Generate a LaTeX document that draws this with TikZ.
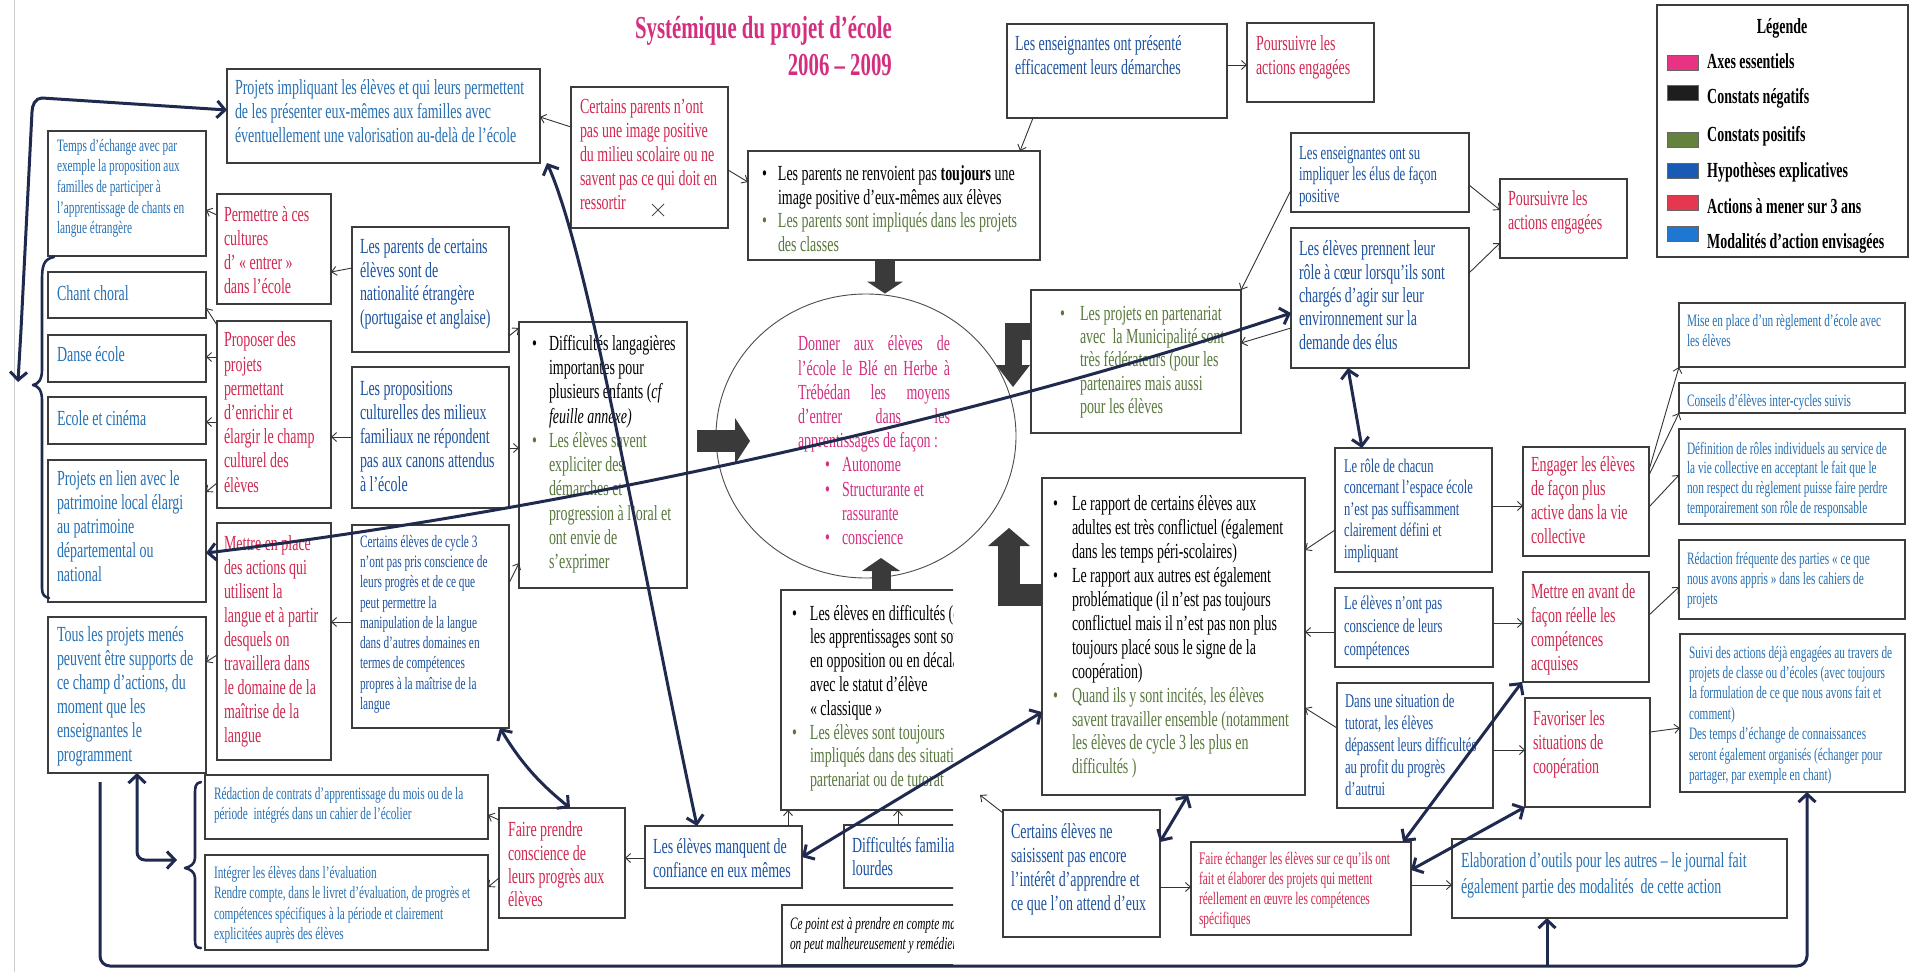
\documentclass[tikz,border=0pt]{standalone}
\usepackage{fontspec}
\setmainfont{Liberation Serif}[FakeStretch=0.65]
\usetikzlibrary{arrows.meta,shapes.geometric}
\definecolor{pinkc}{RGB}{212,46,128}
\definecolor{redc}{RGB}{208,40,80}
\definecolor{hypc}{RGB}{28,82,160}
\definecolor{modc}{RGB}{38,112,180}
\definecolor{posc}{RGB}{88,120,60}
\definecolor{navy}{RGB}{32,42,78}
\definecolor{blockc}{RGB}{58,58,58}
\definecolor{edgec}{RGB}{60,60,60}
\definecolor{swpink}{RGB}{232,50,130}
\definecolor{swblack}{RGB}{30,30,30}
\definecolor{swgreen}{RGB}{100,130,60}
\definecolor{swblue}{RGB}{25,90,180}
\definecolor{swred}{RGB}{230,55,80}
\definecolor{swlblue}{RGB}{30,120,210}
\newcommand\tbul[1]{\makebox[#1pt][l]{\textbullet}}
\newcommand\tind[1]{\hspace*{#1pt}}
\newcommand\bx[9]{%
  \node[box,minimum width={(#4-#2)*1pt},minimum height={(#5-#3)*1pt}] (#1) at (#2,#3) {};
  \node[txt,#8] (#1t) at (#6,#7) {#9};}
\begin{document}
\begin{tikzpicture}[x=1pt,y=-1pt,
  box/.style={draw=edgec,line width=1.1pt,anchor=north west,inner sep=0pt,outer sep=0pt},
  txt/.style={anchor=north west,inner sep=0pt,outer sep=0pt,align=left},
  fs/.style 2 args={font=\fontsize{#1}{#2}\selectfont},
  thin/.style={draw=black!80,line width=0.9pt,-{Straight Barb[length=5pt,width=9pt]}},
  thk/.style={draw=navy,line width=3pt,{Straight Barb[length=8pt,width=17pt]}-{Straight Barb[length=8pt,width=17pt]}},
  thkend/.style={draw=navy,line width=3pt,-{Straight Barb[length=8pt,width=17pt]}},
  hand/.style={draw=navy,line width=2.6pt,line cap=round,line join=round},
  blk/.style={draw=blockc,line join=miter},
  swatch/.style={anchor=north west,minimum width=31pt,minimum height=15pt,inner sep=0pt,draw=black!60,line width=0.5pt},
  leglab/.style={anchor=base west,inner sep=0pt,font=\fontsize{21.5}{24}\selectfont\bfseries}]
\useasboundingbox (0,0) rectangle (1910,972);
\fill[white] (0,0) rectangle (1910,972);
\draw[gray!40,line width=0.8pt] (14,0) -- (14,972);

% title
\node[anchor=north east,align=right,inner sep=0pt,text=pinkc,font=\fontsize{32}{37}\selectfont\bfseries] (title) at (892,16) {Systémique du projet d’école\\2006 – 2009};

% legend
\node[box,minimum width=251pt,minimum height=252pt] (legend) at (1657,5) {};
\node[anchor=base,inner sep=0pt,font=\fontsize{21.5}{24}\selectfont\bfseries] (legt) at (1782,33) {Légende};
\node[swatch,fill=swpink] (sw1) at (1667,55) {};
\node[swatch,fill=swblack] (sw2) at (1667,85) {};
\node[swatch,fill=swgreen] (sw3) at (1667,132) {};
\node[swatch,fill=swblue] (sw4) at (1667,163) {};
\node[swatch,fill=swred] (sw5) at (1667,195) {};
\node[swatch,fill=swlblue] (sw6) at (1667,226) {};
\node[leglab] (lb1) at (1707,68) {Axes essentiels};
\node[leglab] (lb2) at (1707,103) {Constats négatifs};
\node[leglab] (lb3) at (1707,141) {Constats positifs};
\node[leglab] (lb4) at (1707,177) {Hypothèses explicatives};
\node[leglab] (lb5) at (1707,213) {Actions à mener sur 3 ans};
\node[leglab] (lb6) at (1707,248) {Modalités d’action envisagées};

% left column
\bx{pimpl}{227}{69}{540}{163}{235}{80}{fs={21.5}{24},text=modc}{Projets impliquant les élèves et qui leurs permettent\\de les présenter eux-mêmes aux familles avec\\éventuellement une valorisation au-delà de l’école}
\bx{temps}{48}{131}{206}{256}{57}{139}{fs={17.4}{20.7},text=modc}{Temps d’échange avec par\\exemple la proposition aux\\familles de participer à\\l’apprentissage de chants en\\langue étrangère}
\bx{permettre}{217}{194}{331}{304}{224}{207}{fs={21.5}{24},text=redc}{Permettre à ces\\cultures\\d’ «~entrer~»\\dans l’école}
\bx{parentsetr}{352}{227}{509}{352}{360}{239}{fs={21.5}{23.4},text=hypc}{Les parents de certains\\élèves sont de\\nationalité étrangère\\(portugaise et anglaise)}
\bx{chant}{48}{272}{206}{318}{57}{286}{fs={21.5}{24},text=modc}{Chant choral}
\bx{danse}{48}{335}{206}{382}{57}{347}{fs={21.5}{24},text=modc}{Danse école}
\bx{cinema}{48}{397}{206}{444}{57}{411}{fs={21.5}{24},text=modc}{Ecole et cinéma}
\bx{patri}{48}{460}{206}{602}{57}{471}{fs={21.5}{24},text=modc}{Projets en lien avec le\\patrimoine local élargi\\au patrimoine\\départemental ou\\national}
\bx{proposer}{217}{321}{331}{508}{224}{332}{fs={21.5}{24.2},text=redc}{Proposer des\\projets\\permettant\\d’enrichir et\\élargir le champ\\culturel des\\élèves}
\bx{propos}{352}{367}{509}{508}{360}{381}{fs={21.5}{24},text=hypc}{Les propositions\\culturelles des milieux\\familiaux ne répondent\\pas aux canons attendus\\à l’école}
\bx{mettre}{217}{523}{331}{760}{224}{536}{fs={21.5}{24},text=redc}{Mettre en place\\des actions qui\\utilisent la\\langue et à partir\\desquels on\\travaillera dans\\le domaine de la\\maîtrise de la\\langue}
\bx{cycle3}{352}{525}{509}{728}{360}{535}{fs={17.4}{20.3},text=hypc}{Certains élèves de cycle 3\\n’ont pas pris conscience de\\leurs progrès et de ce que\\peut permettre la\\manipulation de la langue\\dans d’autres domaines en\\termes de compétences\\propres à la maîtrise de la\\langue}
\bx{tous}{48}{617}{206}{773}{57}{627}{fs={21.5}{24},text=modc}{Tous les projets menés\\peuvent être supports de\\ce champ d’actions, du\\moment que les\\enseignantes le\\programment}
\bx{redaction}{205}{775}{488}{839}{214}{787}{fs={17.4}{20},text=modc}{Rédaction de contrats d’apprentissage du mois ou de la\\période~ intégrés dans un cahier de l’écolier}
\bx{integrer}{205}{855}{488}{950}{214}{866}{fs={17.4}{20.5},text=modc}{Intégrer les élèves dans l’évaluation\\Rendre compte, dans le livret d’évaluation, de progrès et\\compétences spécifiques à la période et clairement\\explicitées auprès des élèves}

% middle
\bx{certparents}{571}{87}{728}{228}{580}{99}{fs={21.5}{24},text=redc}{Certains parents n’ont\\pas une image positive\\du milieu scolaire ou ne\\savent pas ce qui doit en\\ressortir}
\draw[black!70,line width=0.8pt] (652,204) -- (664,216) (652,216) -- (664,204);
\bx{renvoient}{748}{151}{1040}{260}{762}{166}{fs={21.5}{23.4}}{\tbul{16}Les parents ne renvoient pas \textbf{toujours} une\\\tind{16}image positive d’eux-mêmes aux élèves\\\textcolor{posc}{\tbul{16}Les parents sont impliqués dans les projets}\\\tind{16}\textcolor{posc}{des classes}}
\bx{langag}{519}{322}{687}{588}{532}{335}{fs={21.5}{24.3}}{\tbul{17}Difficultés langagières\\\tind{17}importantes pour\\\tind{17}plusieurs enfants (\textit{cf}\\\tind{17}\textit{feuille annexe)}\\\textcolor{posc}{\tbul{17}Les élèves savent}\\\tind{17}\textcolor{posc}{expliciter des}\\\tind{17}\textcolor{posc}{démarches et}\\\tind{17}\textcolor{posc}{progression à l’oral et}\\\tind{17}\textcolor{posc}{ont envie de}\\\tind{17}\textcolor{posc}{s’exprimer}}
\node[draw=black!70,line width=0.9pt,ellipse,minimum width=300pt,minimum height=284pt,inner sep=0pt] (goal) at (866,436) {};
\node[txt,fs={21.5}{24.2},text=pinkc] (goalt) at (798,336) {\hbox to 152pt{Donner\hfill aux\hfill élèves\hfill de}\\\hbox to 152pt{l’école\hfill le\hfill Blé\hfill en\hfill Herbe\hfill à}\\\hbox to 152pt{Trébédan\hfill les\hfill moyens}\\\hbox to 152pt{d’entrer\hfill dans\hfill les}\\apprentissages de façon :\\\tind{27}\tbul{17}Autonome\\\tind{27}\tbul{17}Structurante et\\\tind{44}rassurante\\\tind{27}\tbul{17}conscience};

% upper right
\bx{enspres}{1007}{24}{1227}{118}{1015}{36}{fs={21.5}{23.4},text=hypc}{Les enseignantes ont présenté\\efficacement leurs démarches}
\bx{pours1}{1247}{23}{1374}{102}{1256}{36}{fs={21.5}{23.4},text=redc}{Poursuivre les\\actions engagées}
\bx{enssu}{1291}{133}{1469}{212}{1299}{146}{fs={19.7}{21.7},text=hypc}{Les enseignantes ont su\\impliquer les élus de façon\\positive}
\bx{prennent}{1291}{228}{1469}{368}{1299}{241}{fs={21.5}{23.3},text=hypc}{Les élèves prennent leur\\rôle à cœur lorsqu’ils sont\\chargés d’agir sur leur\\environnement sur la\\demande des élus}
\bx{pours2}{1500}{179}{1627}{258}{1508}{191}{fs={21.5}{23.4},text=redc}{Poursuivre les\\actions engagées}
\bx{partenar}{1031}{290}{1241}{433}{1060}{306}{fs={21.5}{23.3},text=posc}{\tbul{20}Les projets en partenariat\\\tind{20}avec~ la Municipalité sont\\\tind{20}très fédérateurs (pour les\\\tind{20}partenaires mais aussi\\\tind{20}pour les élèves}
\bx{rapport}{1042}{478}{1305}{795}{1053}{496}{fs={21.5}{23.9}}{\tbul{19}Le rapport de certains élèves aux\\\tind{19}adultes est très conflictuel (également\\\tind{19}dans les temps péri-scolaires)\\\tbul{19}Le rapport aux autres est également\\\tind{19}problématique (il n’est pas toujours\\\tind{19}conflictuel mais il n’est pas non plus\\\tind{19}toujours placé sous le signe de la\\\tind{19}coopération)\\\textcolor{posc}{\tbul{19}Quand ils y sont incités, les élèves}\\\tind{19}\textcolor{posc}{savent travailler ensemble (notamment}\\\tind{19}\textcolor{posc}{les élèves de cycle 3 les plus en}\\\tind{19}\textcolor{posc}{difficultés )}}
\bx{role}{1335}{448}{1492}{572}{1344}{459}{fs={19.3}{21.5},text=hypc}{Le rôle de chacun\\concernant l’espace école\\n’est pas suffisamment\\clairement défini et\\impliquant}
\bx{nont}{1335}{588}{1493}{667}{1344}{596}{fs={19.5}{23},text=hypc}{Le élèves n’ont pas\\conscience de leurs\\compétences}
\bx{tutorat}{1337}{683}{1493}{808}{1345}{694}{fs={19.5}{22},text=hypc}{Dans une situation de\\tutorat, les élèves\\dépassent leurs difficultés\\au profit du progrès\\d’autrui}
\bx{engager}{1523}{447}{1649}{556}{1531}{457}{fs={21.5}{24},text=redc}{Engager les élèves\\de façon plus\\active dans la vie\\collective}
\bx{avant}{1523}{572}{1649}{682}{1531}{584}{fs={21.5}{24},text=redc}{Mettre en avant de\\façon réelle les\\compétences\\acquises}
\bx{favoriser}{1525}{698}{1650}{807}{1533}{711}{fs={21.5}{24},text=redc}{Favoriser les\\situations de\\coopération}
\bx{mise}{1679}{303}{1905}{367}{1687}{314}{fs={17.4}{20},text=modc}{Mise en place d’un règlement d’école avec\\les élèves}
\bx{conseils}{1679}{383}{1905}{413}{1687}{394}{fs={17.4}{20},text=modc}{Conseils d’élèves inter-cycles suivis}
\bx{definition}{1679}{429}{1905}{524}{1687}{442}{fs={17.4}{19.6},text=modc}{Définition de rôles individuels au service de\\la vie collective en acceptant le fait que le\\non respect du règlement puisse faire perdre\\temporairement son rôle de responsable}
\bx{redfreq}{1679}{540}{1905}{619}{1687}{552}{fs={17.4}{20},text=modc}{Rédaction fréquente des parties «~ce que\\nous avons appris~» dans les cahiers de\\projets}
\bx{suivi}{1680}{634}{1905}{792}{1689}{646}{fs={17.4}{20.4},text=modc}{Suivi des actions déjà engagées au travers de\\projets de classe ou d’écoles (avec toujours\\la formulation de ce que nous avons fait et\\comment)\\Des temps d’échange de connaissances\\seront également organisés (échanger pour\\partager, par exemple en chant)}
\bx{elaboration}{1452}{839}{1787}{918}{1461}{852}{fs={21.5}{26},text=modc}{Elaboration d’outils pour les autres – le journal fait\\également partie des modalités~ de cette action}
\bx{echanger}{1191}{842}{1411}{935}{1199}{852}{fs={17.6}{20},text=redc}{Faire échanger les élèves sur ce qu’ils ont\\fait et élaborer des projets qui mettent\\réellement en œuvre les compétences\\spécifiques}
\bx{saisissent}{1003}{810}{1160}{937}{1011}{824}{fs={21.5}{24},text=hypc}{Certains élèves ne\\saisissent pas encore\\l’intérêt d’apprendre et\\ce que l’on attend d’eux}
\bx{manquent}{645}{826}{802}{888}{653}{839}{fs={21.5}{23.3},text=hypc}{Les élèves manquent de\\confiance en eux mêmes}
\bx{faireprendre}{499}{808}{625}{918}{508}{822}{fs={21.5}{23.3},text=redc}{Faire prendre\\conscience de\\leurs progrès aux\\élèves}

% clipped boxes
\begin{scope}
\clip (760,570) rectangle (953,972);
\bx{difficultes}{781}{590}{1010}{810}{792}{605}{fs={21.5}{23.8}}{\tbul{18}Les élèves en difficultés (dans\\\tind{18}les apprentissages sont souvent\\\tind{18}en opposition ou en décalage\\\tind{18}avec le statut d’élève\\\tind{18}«~classique~»\\\textcolor{posc}{\tbul{18}Les élèves sont toujours}\\\tind{18}\textcolor{posc}{impliqués dans des situations de}\\\tind{18}\textcolor{posc}{partenariat ou de tutorat}}
\bx{famil}{844}{825}{1010}{888}{852}{837}{fs={21.5}{23.3},text=hypc}{Difficultés familiales\\lourdes}
\bx{cepoint}{782}{905}{1010}{965}{790}{917}{fs={17.4}{20}}{\textit{Ce point est à prendre en compte mais}\\\textit{on peut malheureusement y remédier}}
\end{scope}

% block arrows
\coordinate (g1) at (750,441);
\draw[blk,line width=22pt,shorten <=10pt,-{Triangle[width=46pt,length=15pt,line width=0pt]}] (langag.east |- 0,441) -- (g1);
\draw[blk,line width=20pt,-{Triangle[width=36pt,length=12pt,line width=0pt]}] (renvoient.south -| 885,0) -- (goal.north -| 885,0);
\coordinate (g3) at (881,558);
\draw[blk,line width=19pt,-{Triangle[width=38pt,length=13pt,line width=0pt]}] (difficultes.north -| 881,0) -- (g3);
\coordinate (g4) at (1013,387);
\draw[blk,line width=17pt,-{Triangle[width=34pt,length=22pt,line width=0pt]}] (partenar.west |- 0,331) -| (g4);
\coordinate (g5) at (1009,528);
\draw[blk,line width=22pt,-{Triangle[width=42pt,length=18pt,line width=0pt]}] (rapport.west |- 0,595) -| (g5);

% thin connectors
\draw[thin] (certparents.west |- 0,127) -- (pimpl.east |- 0,117);
\draw[thin] (certparents.east |- 0,170) -- (renvoient.west |- 0,182);
\draw[thin] (enspres.south -| 1033,0) -- (renvoient.north -| 1020,0);
\draw[thin] (enspres.east |- 0,65) -- (pours1.west |- 0,65);
\draw[thin] (enssu.east |- 0,185) -- (pours2.west |- 0,210);
\draw[thin] (prennent.east |- 0,273) -- (pours2.west |- 0,243);
\draw[thin] (enssu.west |- 0,190) -- (partenar.north east);
\draw[thin] (prennent.west |- 0,328) -- (partenar.east |- 0,343);
\draw[thin] (permettre.west |- 0,215) -- (temps.east |- 0,210);
\draw[thin] (parentsetr.west |- 0,268) -- (permettre.east |- 0,272);
\draw[thin] (proposer.west |- 0,325) -- (chant.east |- 0,308);
\draw[thin] (proposer.west |- 0,357) -- (danse.east |- 0,357);
\draw[thin] (proposer.west |- 0,422) -- (cinema.east |- 0,422);
\draw[thin] (proposer.west |- 0,483) -- (patri.east |- 0,492);
\draw[thin] (propos.west |- 0,437) -- (proposer.east |- 0,437);
\draw[thin] (cycle3.west |- 0,622) -- (mettre.east |- 0,622);
\draw[thin] (mettre.west |- 0,655) -- (tous.east |- 0,662);
\draw[thin] (parentsetr.east |- 0,336) -- (langag.west |- 0,328);
\draw[thin] (propos.east |- 0,448) -- (langag.west |- 0,448);
\draw[thin] (cycle3.east |- 0,583) -- (langag.west |- 0,563);
\draw[thin] (manquent.west |- 0,858) -- (faireprendre.east |- 0,858);
\draw[thin] (faireprendre.west |- 0,820) -- (redaction.east |- 0,815);
\draw[thin] (faireprendre.west |- 0,878) -- (integrer.east |- 0,887);
\draw[thin] (manquent.north -| 788,0) -- (difficultes.south -| 788,0);
\draw[thin] (famil.north -| 898,0) -- (difficultes.south -| 898,0);
\coordinate (zf) at (980,795);
\draw[thin] (saisissent.west |- 0,813) -- (zf);
\draw[thin] (role.west |- 0,530) -- (rapport.east |- 0,550);
\draw[thin] (nont.west |- 0,632) -- (rapport.east |- 0,632);
\draw[thin] (tutorat.west |- 0,728) -- (rapport.east |- 0,708);
\draw[thin] (role.east |- 0,506) -- (engager.west |- 0,506);
\draw[thin] (nont.east |- 0,623) -- (avant.west |- 0,623);
\draw[thin] (tutorat.east |- 0,750) -- (favoriser.west |- 0,750);
\draw[thin] (engager.east |- 0,470) -- (mise.south west);
\draw[thin] (engager.east |- 0,475) -- (conseils.south west);
\draw[thin] (engager.east |- 0,507) -- (definition.west |- 0,475);
\draw[thin] (avant.east |- 0,615) -- (redfreq.west |- 0,587);
\draw[thin] (favoriser.east |- 0,732) -- (suivi.west |- 0,728);
\draw[thin] (saisissent.east |- 0,887) -- (echanger.west |- 0,887);
\draw[thin] (echanger.east |- 0,885) -- (elaboration.west |- 0,885);

% thick hand-drawn connectors
\coordinate (lt) at (18,382);
\draw[thk] (lt) -- (21,330) -- (32,112) to[out=90,in=180] (42,98) -- (pimpl.west |- 0,110);
\draw[thk] (pimpl.south -| 547,0) .. controls (590,260) and (640,560) .. (manquent.north -| 697,0);
\draw[thk] (patri.east |- 0,553) .. controls (600,505) and (1000,410) .. (prennent.west |- 0,313);
\draw[thk] (prennent.south -| 1348,0) -- (role.north -| 1362,0);
\draw[thk] (cycle3.south -| 500,0) .. controls (525,770) and (548,790) .. (faireprendre.north -| 570,0);
\draw[thk] (manquent.east |- 0,857) -- (rapport.west |- 0,712);
\draw[thk] (saisissent.east |- 0,842) -- (rapport.south -| 1188,0);
\draw[thk] (echanger.north -| 1403,0) -- (avant.south -| 1522,0);
\draw[thk] (echanger.east |- 0,870) -- (favoriser.south west);
\coordinate (bs) at (100,782);
\draw[thkend] (bs) -- (100,956) to[out=-90,in=180] (110,966) -- (1797,966) to[out=0,in=-90] (1807,956) -- (suivi.south -| 1807,0);
\coordinate (bb) at (1547,966);
\draw[thkend] (bb) -- (elaboration.south -| 1547,0);
\coordinate (bt) at (177,860);
\draw[thk] (tous.south -| 137,0) -- (137,852) to[out=-90,in=180] (145,860) -- (bt);

% braces
\draw[hand] (54,257) .. controls (44,259) and (42,265) .. (42,280) -- (42,370) .. controls (42,380) and (38,384) .. (33,385) .. controls (38,386) and (42,390) .. (42,400) -- (42,588) .. controls (42,594) and (44,597) .. (49,598);
\draw[hand] (201,782) .. controls (195,783) and (195,787) .. (195,795) -- (195,858) .. controls (195,864) and (190,867) .. (185,868) .. controls (190,869) and (195,872) .. (195,878) -- (195,940) .. controls (195,946) and (196,948) .. (201,948);
\end{tikzpicture}
\end{document}
